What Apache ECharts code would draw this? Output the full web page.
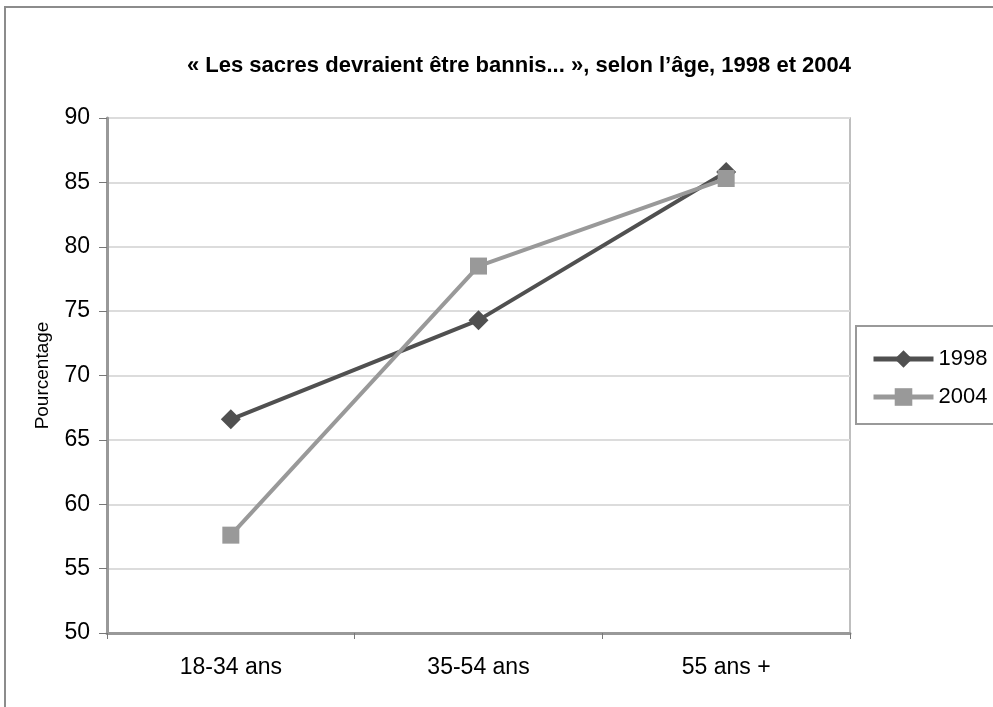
<!DOCTYPE html>
<html><head><meta charset="utf-8">
<script src="https://cdn.jsdelivr.net/npm/echarts@6/dist/echarts.min.js"></script>
<style>html,body{margin:0;padding:0;background:#fff}#c{width:993px;height:707px}</style>
</head><body><div id="c"></div>
<script>
const categories = ['18-34 ans', '35-54 ans', '55 ans +'];
const s1998 = [66.6, 74.3, 85.8];
const s2004 = [57.6, 78.5, 85.3];
const yTicks = [50, 55, 60, 65, 70, 75, 80, 85, 90];
const title = '« Les sacres devraient être bannis... », selon l’âge, 1998 et 2004';
const FONT = '"Liberation Sans", Arial, sans-serif';

const chart = echarts.init(document.getElementById('c'), null, {renderer: 'canvas'});
chart.setOption({
  animation: false,
  backgroundColor: '#fff',
  title: {
    text: title, left: 514, top: 50, textAlign: 'center',
    textStyle: {fontFamily: FONT, fontWeight: 'bold', fontSize: 22, color: '#000'}
  },
  graphic: [
    {type: 'rect', shape: {x: 5, y: 7, width: 1000, height: 720}, style: {fill: 'none', stroke: '#8c8c8c', lineWidth: 2}, z: 0},
    {type: 'rect', shape: {x: 856, y: 326, width: 150, height: 98}, style: {fill: '#fff', stroke: '#999', lineWidth: 2}, z: 1}
  ],
  legend: {
    orient: 'vertical', left: 866, top: 343, itemWidth: 60, itemHeight: 22, itemGap: 16,
    lineStyle: {width: 5},
    textStyle: {fontFamily: FONT, fontSize: 22, color: '#000'}, z: 5,
    data: ['1998', '2004']
  },
  grid: {left: 107, right: 143, top: 118, bottom: 74, show: true, borderColor: '#aaa', borderWidth: 1.5, backgroundColor: 'transparent'},
  xAxis: {
    type: 'category', data: categories, boundaryGap: true,
    axisLine: {lineStyle: {color: '#999', width: 3}},
    axisTick: {show: true, length: 6, lineStyle: {color: '#777'}},
    axisLabel: {fontFamily: FONT, fontSize: 23, color: '#000', margin: 23}
  },
  yAxis: {
    type: 'value', min: 50, max: 90, interval: 5,
    name: 'Pourcentage', nameLocation: 'middle', nameGap: 55, nameRotate: 90,
    nameTextStyle: {fontFamily: FONT, fontSize: 19, color: '#000'},
    axisLine: {show: true, lineStyle: {color: '#999', width: 3}},
    axisTick: {show: true, length: 8, lineStyle: {color: '#777'}},
    axisLabel: {fontFamily: FONT, fontSize: 23, color: '#000', margin: 17,
      formatter: v => yTicks.includes(v) ? String(v) : ''},
    splitLine: {show: true, lineStyle: {color: '#dcdcdc', width: 2}}
  },
  series: [
    {name: '1998', type: 'line', data: s1998, symbol: 'diamond', symbolSize: 20,
     lineStyle: {color: '#505050', width: 4}, itemStyle: {color: '#505050'}, z: 3},
    {name: '2004', type: 'line', data: s2004, symbol: 'rect', symbolSize: 17,
     lineStyle: {color: '#999999', width: 4}, itemStyle: {color: '#999999'}, z: 4}
  ]
});
</script></body></html>
